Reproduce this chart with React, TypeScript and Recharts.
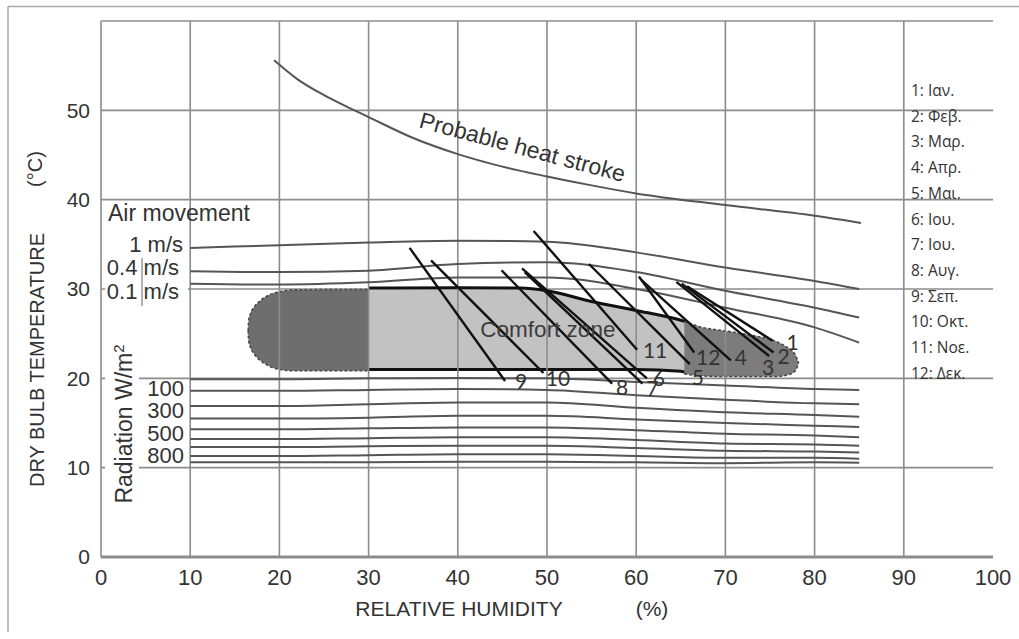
import React from 'react';
import { ComposedChart, Line, Area, Scatter, XAxis, YAxis, CartesianGrid, ReferenceLine } from 'recharts';

// ---------- axes ----------
const humidityTicks = [0, 10, 20, 30, 40, 50, 60, 70, 80, 90, 100];
const temperatureTicks = [0, 10, 20, 30, 40, 50, 60];
const verticalGrid = [10, 20, 30, 40, 50, 60, 70, 80, 90];

// ---------- heat stroke curve ----------
const heatStrokeHumidity = [19.4, 22, 25, 28, 30, 35, 40, 45, 50, 55, 60, 70, 80, 85.2];
const heatStrokeTemp = [55.6, 53.5, 51.7, 50.2, 49.25, 46.9, 45.1, 43.7, 42.6, 41.6, 40.7, 39.4, 38.2, 37.4];

// ---------- air movement curves ----------
const airHumidity = [10, 20, 30, 40, 50, 60, 70, 80, 85];
const air1Temp = [34.6, 34.9, 35.2, 35.4, 35.3, 34.1, 32.4, 30.9, 30.0];
const air04Temp = [32.0, 31.9, 32.05, 32.8, 33.0, 31.9, 29.8, 27.9, 26.8];
const air01Temp = [30.6, 30.5, 30.75, 31.3, 31.3, 30.0, 27.9, 25.7, 24.0];
const airLabels = ['1 m/s', '0.4 m/s', '0.1 m/s'];

// ---------- radiation curves ----------
const radiationHumidity = [10, 20, 30, 40, 50, 60, 70, 80, 85];
const radiationTemps = [
  [19.9, 19.9, 20.0, 20.05, 20.0, 19.6, 19.2, 18.8, 18.7],
  [18.6, 18.6, 18.7, 18.8, 18.7, 18.1, 17.6, 17.2, 17.1],
  [16.9, 16.9, 17.1, 17.3, 17.3, 16.7, 16.2, 15.9, 15.7],
  [15.5, 15.5, 15.6, 15.8, 15.8, 15.4, 15.0, 14.7, 14.55],
  [14.3, 14.3, 14.4, 14.5, 14.5, 14.2, 13.8, 13.6, 13.4],
  [13.2, 13.2, 13.3, 13.4, 13.4, 13.1, 12.7, 12.6, 12.45],
  [12.3, 12.3, 12.4, 12.45, 12.45, 12.2, 11.9, 11.8, 11.7],
  [11.3, 11.3, 11.4, 11.5, 11.5, 11.3, 11.1, 11.1, 11.0],
  [10.6, 10.6, 10.6, 10.65, 10.65, 10.6, 10.5, 10.6, 10.55],
];
const radiationLabels = ['100', '300', '500', '800'];

// ---------- comfort zone ----------
const darkLeftHumidity = [16.5, 16.55, 16.75, 17.2, 18, 19, 20, 21.5, 30];
const darkLeftHigh = [25.35, 26.4, 27.2, 28.0, 28.8, 29.4, 29.7, 29.9, 29.95];
const darkLeftLow = [25.35, 24.3, 23.5, 22.7, 21.9, 21.3, 21.0, 20.85, 20.85];

const lightHumidity = [30, 40, 47, 50, 55, 60, 65, 65.7];
const lightHigh = [30.1, 30.15, 30.1, 29.8, 28.6, 27.6, 26.5, 26.3];
const lightLow = [21.0, 21.0, 21.0, 21.0, 21.0, 21.0, 20.8, 20.65];

const darkRightHumidity = [65.4, 67, 70, 73, 75.5, 77, 77.8, 78.2];
const darkRightHigh = [26.4, 25.8, 25.3, 24.8, 24.2, 23.4, 22.7, 21.7];
const darkRightLow = [20.5, 20.3, 20.2, 20.2, 20.2, 20.4, 20.8, 21.7];

// ---------- monthly lines ----------
const monthNames = ['Ιαν.', 'Φεβ.', 'Μαρ.', 'Απρ.', 'Μαι.', 'Ιου.', 'Ιου.', 'Αυγ.', 'Σεπ.', 'Οκτ.', 'Νοε.', 'Δεκ.'];
const monthStartHumidity = [65.7, 65.1, 64.5, 60.6, 54.7, 47.2, 47.5, 44.9, 34.6, 37.0, 48.5, 60.3];
const monthStartTemp = [30.3, 30.6, 30.8, 31.0, 32.8, 32.3, 31.9, 32.1, 34.6, 33.2, 36.5, 31.4];
const monthEndHumidity = [75.3, 75.4, 74.9, 70.6, 66.0, 61.2, 60.7, 57.3, 45.3, 49.6, 60.1, 66.5];
const monthEndTemp = [24.2, 22.9, 22.5, 22.0, 21.6, 20.0, 19.4, 19.4, 19.7, 20.6, 23.2, 22.9];

// ---------- annotations (data coordinates) ----------
const comfortLabel = [{ x: 50.1, y: 25.5, label: 'Comfort zone' }];
const heatLabel = [{ x: 47.25, y: 45.9, label: 'Probable heat stroke' }];

// ---------- styles ----------
const GRID = '#8c8c8c';
const CURVE = '#555';
const SANS = "'Liberation Sans', Arial, Helvetica, sans-serif";
const NARROW = "'Liberation Sans Narrow', 'Liberation Sans', Arial, sans-serif";
const LABELFONT = "Lato, 'Open Sans', sans-serif";
const monthLabelOffsets: [number, number][] = [
  [20, 8.7], [10, 12], [-1, 18.5], [10, 5], [8, 20.5], [12, 7.2],
  [10, 12.8], [10, 11.8], [16, 8.2], [14.6, 13.5], [18, 8.7], [14, 13],
];

const pts = (xs: number[], ys: number[]) => xs.map((x, i) => ({ x, y: ys[i] }));
const rangePts = (xs: number[], lo: number[], hi: number[]) => xs.map((x, i) => ({ x, y: [lo[i], hi[i]] }));

const heatStroke = pts(heatStrokeHumidity, heatStrokeTemp);
const airCurves = [air1Temp, air04Temp, air01Temp].map((t) => pts(airHumidity, t));
const radiationCurves = radiationTemps.map((t) => pts(radiationHumidity, t));
const darkLeft = rangePts(darkLeftHumidity, darkLeftLow, darkLeftHigh);
const light = rangePts(lightHumidity, lightLow, lightHigh);
const darkRight = rangePts(darkRightHumidity, darkRightLow, darkRightHigh);
const monthLines = monthNames.map((_, i) => [
  { x: monthStartHumidity[i], y: monthStartTemp[i] },
  { x: monthEndHumidity[i], y: monthEndTemp[i] },
]);
const monthLabels = monthNames.map((_, i) => ({ x: monthEndHumidity[i], y: monthEndTemp[i], idx: i }));

export default function App() {
  return (
    <div style={{ position: 'absolute', left: 0, top: 0, width: 1019, height: 639, background: '#fff' }}>
      <ComposedChart width={1019} height={639} margin={{ top: 21, right: 26, bottom: 52, left: 41 }}>
        <CartesianGrid vertical={false} stroke={GRID} strokeWidth={1.6} />
        <XAxis
          type="number"
          dataKey="x"
          domain={[0, 100]}
          ticks={humidityTicks}
          interval={0}
          allowDataOverflow
          tickLine={false}
          tickSize={0}
          tickMargin={12}
          height={30}
          axisLine={{ stroke: GRID, strokeWidth: 3 }}
          tick={{ fontFamily: NARROW, fontSize: 22, fill: '#333' }}
        />
        <YAxis
          type="number"
          dataKey="y"
          domain={[0, 60]}
          ticks={temperatureTicks}
          interval={0}
          allowDataOverflow
          tickFormatter={(v: number) => (v === 60 ? '' : String(v))}
          tickLine={false}
          tickSize={0}
          tickMargin={11}
          width={60}
          axisLine={{ stroke: GRID, strokeWidth: 1.6 }}
          tick={{ fontFamily: SANS, fontSize: 21, fill: '#333' }}
        />
        {verticalGrid.map((h) => (
          <ReferenceLine key={'vg' + h} x={h} stroke={GRID} strokeWidth={1.6} />
        ))}

        <Area data={darkLeft} dataKey="y" type="monotone" fill="#6e6e6e" fillOpacity={1}
          stroke="#4a4a4a" strokeWidth={1.6} strokeDasharray="3 2" isAnimationActive={false} activeDot={false} />
        <Area data={light} dataKey="y" type="monotone" fill="#c2c2c2" fillOpacity={1}
          stroke="#111" strokeWidth={3} isAnimationActive={false} activeDot={false} />
        <Area data={darkRight} dataKey="y" type="monotone" fill="#7c7c7c" fillOpacity={1}
          stroke="#4a4a4a" strokeWidth={1.6} strokeDasharray="3 2" isAnimationActive={false} activeDot={false} />

        <Line data={heatStroke} dataKey="y" type="monotone" stroke={CURVE} strokeWidth={2} dot={false} activeDot={false} isAnimationActive={false} />
        {airCurves.map((d, i) => (
          <Line key={'air' + i} data={d} dataKey="y" type="monotone" stroke={CURVE} strokeWidth={2} dot={false} activeDot={false} isAnimationActive={false} />
        ))}
        {radiationCurves.map((d, i) => (
          <Line key={'rad' + i} data={d} dataKey="y" type="monotone" stroke={CURVE} strokeWidth={2} dot={false} activeDot={false} isAnimationActive={false} />
        ))}
        {monthLines.map((d, i) => (
          <Line key={'m' + i} data={d} dataKey="y" type="linear" stroke="#111" strokeWidth={2.4} dot={false} activeDot={false} isAnimationActive={false} />
        ))}

        <Scatter
          data={monthLabels}
          isAnimationActive={false}
          shape={(p: any) => {
            const [dx, dy] = monthLabelOffsets[p.payload.idx];
            return (
              <text x={p.cx + dx} y={p.cy + dy} textAnchor="middle" fontFamily={LABELFONT} fontSize={21} fill="#333">
                {p.payload.idx + 1}
              </text>
            );
          }}
        />
        <Scatter
          data={comfortLabel}
          isAnimationActive={false}
          shape={(p: any) => (
            <text x={p.cx} y={p.cy} textAnchor="middle" dominantBaseline="central" fontFamily={SANS} fontSize={22.5} fill="#3c3c3c">
              {p.payload.label}
            </text>
          )}
        />
        <Scatter
          data={heatLabel}
          isAnimationActive={false}
          shape={(p: any) => (
            <text x={p.cx} y={p.cy} textAnchor="middle" dominantBaseline="central" fontFamily={SANS} fontSize={23} fill="#333"
              transform={`rotate(15 ${p.cx} ${p.cy})`}>
              {p.payload.label}
            </text>
          )}
        />
      </ComposedChart>

      <svg width={1019} height={639} style={{ position: 'absolute', left: 0, top: 0, pointerEvents: 'none' }}>
        {/* frame */}
        <line x1={8} y1={6.5} x2={1019} y2={6.5} stroke="#a8a8a8" strokeWidth={1.5} />
        <line x1={8} y1={6.5} x2={8} y2={632} stroke="#a8a8a8" strokeWidth={1.5} />

        {/* axis titles */}
        <text transform="translate(44,360) rotate(-90)" textAnchor="middle" fontFamily={SANS} fontSize={20} fill="#333">
          DRY BULB TEMPERATURE
        </text>
        <text transform="translate(42,169) rotate(-90)" textAnchor="middle" fontFamily={SANS} fontSize={20} fill="#333">
          (°C)
        </text>
        <text x={459} y={616} textAnchor="middle" fontFamily={NARROW} fontSize={21} fill="#333">RELATIVE HUMIDITY</text>
        <text x={652} y={616} textAnchor="middle" fontFamily={NARROW} fontSize={21} fill="#333">(%)</text>

        {/* radiation label */}
        <rect x={105} y={335} width={34} height={180} fill="#fff" />
        <text transform="translate(132,424) rotate(-90)" textAnchor="middle" fontFamily={SANS} fontSize={23} fill="#333">
          Radiation W/m<tspan dy={-8} fontSize={15}>2</tspan>
        </text>
        {radiationLabels.map((l, i) => (
          <text key={'rl' + i} x={184} y={[396, 418, 441, 463][i]} textAnchor="end" fontFamily={SANS} fontSize={22} fill="#333">{l}</text>
        ))}

        {/* air movement labels */}
        <rect x={105} y={282} width={83} height={10} fill="#fff" />
        <text x={108} y={221} fontFamily={SANS} fontSize={23} fill="#333">Air movement</text>
        {airLabels.map((l, i) => (
          <text key={'al' + i} x={[183, 179, 179][i]} y={[252, 275, 299][i]} textAnchor="end" fontFamily={SANS} fontSize={22} fill="#333">{l}</text>
        ))}
        <line x1={142} y1={258} x2={142} y2={306} stroke="#999" strokeWidth={1.5} />

        {/* month legend */}
        {monthNames.map((m, i) => (
          <text key={'lg' + i} x={911} y={96 + i * 25.7} fontFamily="'Open Sans', 'Noto Sans', sans-serif" fontSize={15.5} fill="#333">
            {`${i + 1}: ${m}`}
          </text>
        ))}
      </svg>
    </div>
  );
}
